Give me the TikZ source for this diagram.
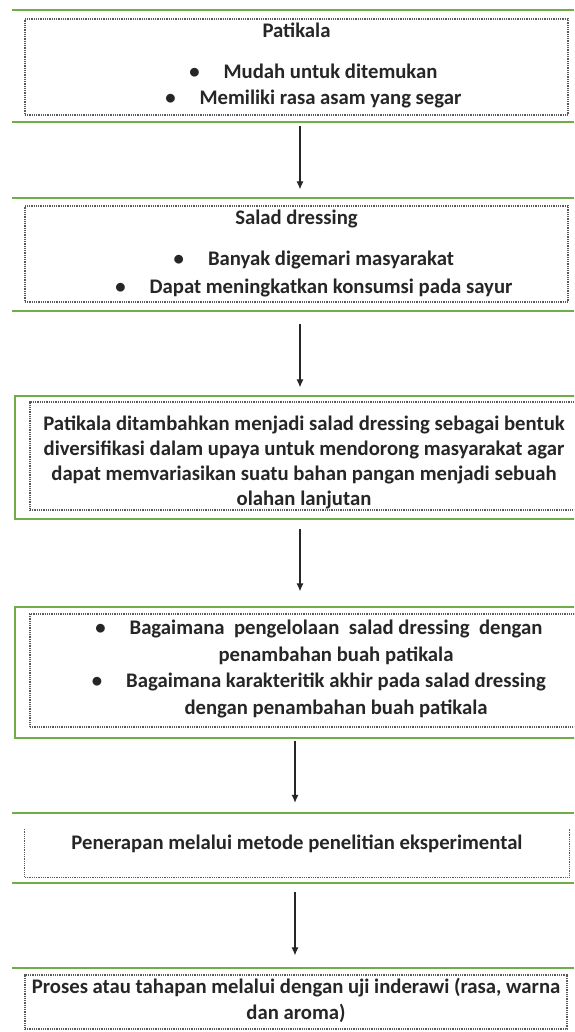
\documentclass[tikz,border=0pt]{standalone}
\usepackage{fontspec}
\setmainfont{Carlito}
\usetikzlibrary{positioning,arrows.meta}
\definecolor{leafgreen}{RGB}{112,173,71}
\newcommand{\itm}{\llap{\textbullet\hspace{24pt}}}

\begin{document}
\begin{tikzpicture}[x=1pt,y=1pt,on grid,
   dotline/.style={draw=black!65, line width=1.3pt, dash pattern=on 1pt off 0.8pt},
   dotbox/.style={dotline, rectangle, inner sep=0pt},
   txt/.style={font=\fontsize{20.7}{26}\selectfont\bfseries, text=black!85, align=center, inner sep=0pt},
   grn/.style={draw=leafgreen, line width=1.5pt},
   flow/.style={-{Latex[length=8pt,width=7pt]}, line width=1.1pt, black!85}]
   \path[use as bounding box] (0,0) rectangle (574,-1032);
   \fill[white] (0,0) rectangle (574,-1032);
   \clip (0,0) rectangle (574,-1032);
   % green rules and frames
   \foreach \gy in {10,122,198,311,813,883,968}
      \draw[grn] (12,-\gy) -- (574,-\gy);
   \foreach \ga/\gb in {396/519,607/738}
      \draw[grn] (590,-\ga) -- (15,-\ga) -- (15,-\gb) -- (590,-\gb);
   % boxes
   \node[dotbox, minimum width=543pt, minimum height=96pt] (b1) at (296.5,-67) {};
   \node[dotbox, minimum width=543pt, minimum height=96pt] (b2) [below=187pt of b1] {};
   \node[dotbox, minimum width=560pt, minimum height=108pt] (b3) [below=202pt of b2, xshift=13.5pt] {};
   \node[dotbox, minimum width=560pt, minimum height=113pt] (b4) [below=214.5pt of b3] {};
   \node[rectangle, inner sep=0pt, minimum width=544pt, minimum height=48pt] (b5) [below=182.5pt of b4, xshift=-13pt] {};
   \draw[dotline] (b5.north west) -- (b5.south west) -- (b5.south east) -- (b5.north east);
   \node[dotbox, minimum width=542pt, minimum height=54pt] (b6) [below=149pt of b5, xshift=-1pt] {};
   % texts
   \node[txt] (t1) [below=12pt of b1.north, anchor=center] {Patikala};
   \node[txt] (l1) [below=68pt of b1.north, anchor=center, xshift=34pt] {\itm Mudah untuk ditemukan\\ \itm Memiliki rasa asam yang segar};
   \node[txt] (t2) [below=14pt of b2.north, anchor=center] {Salad dressing};
   \node[txt] (l2) [below=69pt of b2.north, anchor=center, xshift=34.5pt] {\itm Banyak digemari masyarakat\\[2pt] \itm Dapat meningkatkan konsumsi pada sayur};
   \node[txt, font=\fontsize{20.7}{25}\selectfont\bfseries] (t3) [below=61pt of b3.north, anchor=center, xshift=-6pt]
      {Patikala ditambahkan menjadi salad dressing sebagai bentuk\\ diversifikasi dalam upaya untuk mendorong masyarakat agar\\ dapat memvariasikan suatu bahan pangan menjadi sebuah\\ olahan lanjutan};
   \node[txt, font=\fontsize{20.7}{26.5}\selectfont\bfseries] (t4) [below=55.5pt of b4.north, anchor=center, xshift=26pt]
      {\itm Bagaimana\ \ pengelolaan\ \ salad dressing\ \ dengan\\ penambahan buah patikala\\ \itm Bagaimana karakteritik akhir pada salad dressing\\ dengan penambahan buah patikala};
   \node[txt] (t5) [below=15pt of b5.north, anchor=center] {Penerapan melalui metode penelitian eksperimental};
   \node[txt] (t6) [below=26pt of b6.north, anchor=center] {Proses atau tahapan melalui dengan uji inderawi (rasa, warna\\ dan aroma)};
   % arrows
   \path[flow]
   ([xshift=3.5pt]b1.south) edge[shorten <=10pt, shorten >=16pt] ([xshift=3.5pt]b2.north)
   ([xshift=3.5pt]b2.south) edge[shorten <=21pt, shorten >=14pt] ([xshift=-10pt]b3.north)
   ([xshift=-10pt]b3.south) edge[shorten <=18pt, shorten >=22pt] ([xshift=-10pt]b4.north)
   ([xshift=-15pt]b4.south) edge[shorten <=13pt, shorten >=26pt] ([xshift=-2pt]b5.north)
   ([xshift=-2pt]b5.south)  edge[shorten <=15pt, shorten >=19pt] ([xshift=-1pt]b6.north);
\end{tikzpicture}
\end{document}
